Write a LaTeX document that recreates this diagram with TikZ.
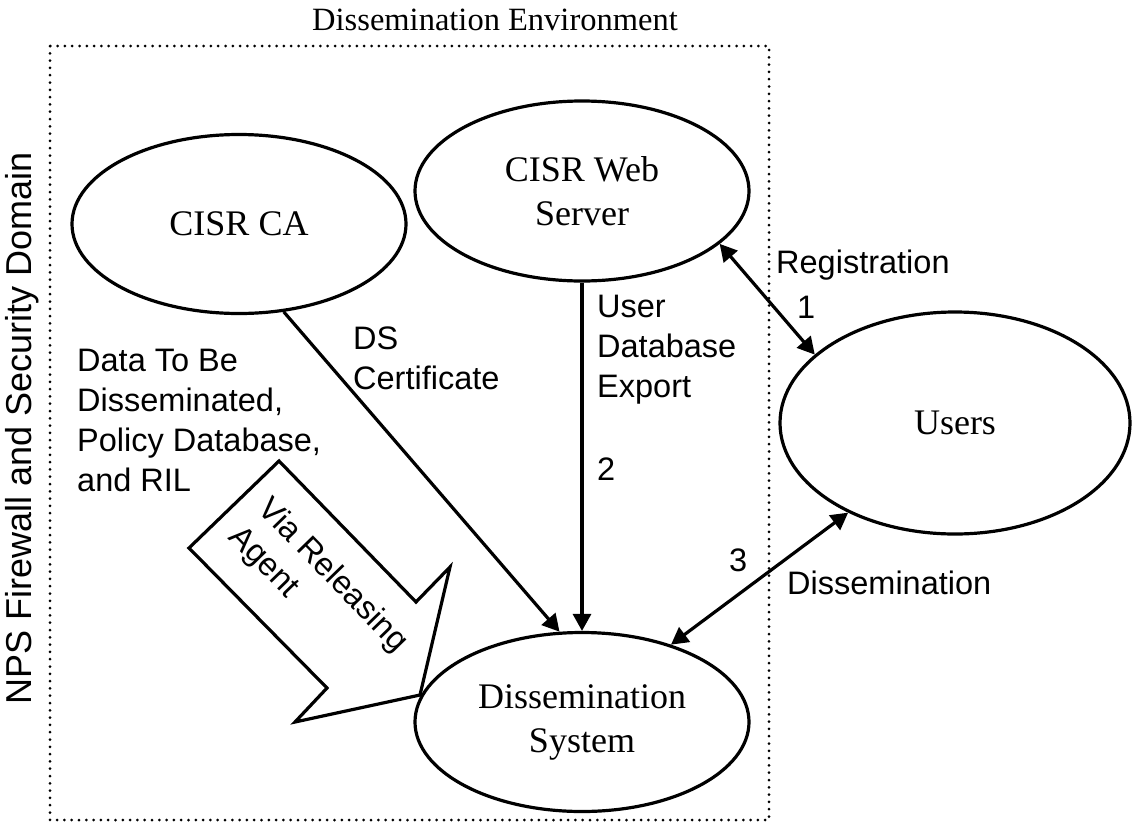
\documentclass[tikz,border=0pt]{standalone}
\usepackage{fontspec}
\setmainfont{Liberation Serif}
\setsansfont{Liberation Sans}
\usetikzlibrary{shapes.geometric,arrows.meta}

\begin{document}
\begin{tikzpicture}[x=1pt,y=-1pt,
    oval/.style={ellipse,draw,line width=3.2pt,inner sep=0pt,align=center,
      font=\fontsize{36}{44}\selectfont},
    flow/.style={line width=3.2pt,-{Triangle[length=17pt,width=18pt]}},
    twoway/.style={line width=3.2pt,
      {Triangle[length=17pt,width=18pt]}-{Triangle[length=17pt,width=18pt]}},
    lbl/.style={inner sep=0pt,align=left,font=\sffamily\fontsize{32.5}{40}\selectfont}]
  \useasboundingbox (0,0) rectangle (1132,822);
  \draw[line width=3pt,line cap=round,dash pattern=on 0pt off 7.3pt]
    (50,46) rectangle (769,820);
  \node[anchor=base,inner sep=0pt,font=\fontsize{32.5}{39}\selectfont] (env)
    at (495,30) {Dissemination Environment};
  \node[rotate=90,inner sep=0pt,font=\sffamily\fontsize{36}{43}\selectfont] (npsdom)
    at (22,428) {NPS Firewall and Security Domain};
  \node[oval,minimum width=334pt,minimum height=179pt] (ca) at (239,224) {CISR CA};
  \node[oval,minimum width=334pt,minimum height=180pt] (ws) at (582,191) {CISR Web\\Server};
  \node[oval,minimum width=334pt,minimum height=179pt] (ds) at (582,722) {Dissemination\\System};
  \node[oval,minimum width=350pt,minimum height=222pt] (users) at (955,423) {Users};
  \draw[line width=3.2pt] (279,461) -- (416,602) -- (450,567) -- (420,695)
    -- (295,722) -- (327,688) -- (189,548) -- cycle;
  \node[lbl,rotate=-45.8] (relagent) at (318,590) {Via Releasing\\Agent};
  \draw[flow] (ca.-63.7) -- (ds.104.9);
  \draw[flow] (ws.south) -- (ds.north);
  \draw[twoway] (ws.-21.6) -- (users.154.3);
  \draw[twoway] (ds.41.3) -- (users.-140.5);
  \node[lbl,anchor=base west] (reg) at (776,273) {Registration};
  \node[lbl,anchor=base west] (one) at (797,318) {1};
  \node[lbl,anchor=north west] (udbx) at (597,295) {User\\Database\\Export};
  \node[lbl,anchor=base west] (two) at (597,480) {2};
  \node[lbl,anchor=north west] (dscert) at (353,327) {DS\\Certificate};
  \node[lbl,anchor=north west] (data) at (77,349)
    {Data To Be\\Disseminated,\\Policy Database,\\and RIL};
  \node[lbl,anchor=base west] (three) at (729,571) {3};
  \node[lbl,anchor=base west] (dissem) at (787,594) {Dissemination};
\end{tikzpicture}
\end{document}
